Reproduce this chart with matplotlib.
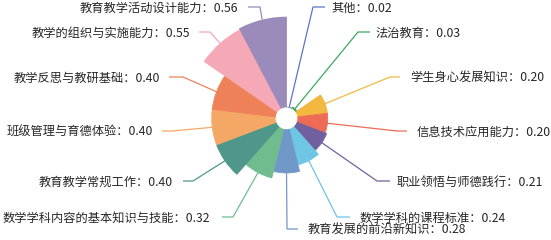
import numpy as np
import matplotlib
matplotlib.use("Agg")
import matplotlib.pyplot as plt

plt.rcParams['font.family'] = ['Noto Sans CJK SC', 'DejaVu Sans']

# data, clockwise from the top
categories = ["其他", "法治教育", "学生身心发展知识", "信息技术应用能力", "职业领悟与师德践行",
              "数学学科的课程标准", "教育发展的前沿新知识", "数学学科内容的基本知识与技能",
              "教育教学常规工作", "班级管理与育德体验", "教学反思与教研基础",
              "教学的组织与实施能力", "教育教学活动设计能力"]
values = [0.02, 0.03, 0.20, 0.20, 0.21, 0.24, 0.28, 0.32, 0.40, 0.40, 0.40, 0.55, 0.56]
colors = ['#5b75c4', '#3da95e', '#f2b840', '#ee6b57', '#71609f', '#6ec5e4', '#6f97c8',
          '#70bc8f', '#4f978b', '#f5a866', '#ef8159', '#f5a8b6', '#9a8bba']

# label layout in pixels: (text x, text y, bend x, line end x), image coords (y down)
label_pos = [(331, 8, 313, 325), (376, 33, 358, 370), (410, 78, 390, 400),
             (417, 132, 397, 407), (397, 182, 377, 390), (360, 218, 337, 350),
             (308, 230, 287, 298), (210, 218, 233, 222), (173, 182, 193, 183),
             (153, 132, 172, 162), (160, 78, 183, 169), (190, 33, 210, 199),
             (238, 8, 260, 248)]

W, H = 551, 240
fig = plt.figure(figsize=(W / 100, H / 100), dpi=100)

# rose chart
cx, cy, R, r0 = 286.5, 118.3, 101.6, 11.0
ax = fig.add_axes([(cx - R) / W, (H - cy - R) / H, 2 * R / W, 2 * R / H], projection='polar')
ax.set_theta_zero_location('N')
ax.set_theta_direction(-1)

n = len(values)
w = 2 * np.pi / n
theta = np.arange(n) * w + w / 2
vmin, vmax = min(values), max(values)
ax.bar(theta, np.array(values) - vmin, width=w, bottom=vmin, color=colors,
       edgecolor=colors, linewidth=0.6, align='center')
ax.set_rmin(vmin)
ax.set_rmax(vmax)
ax.set_rorigin(vmin - (vmax - vmin) * r0 / (R - r0))
ax.set_axis_off()

# overlay for labels and leader lines
ov = fig.add_axes([0, 0, 1, 1], zorder=-1)
ov.set_xlim(0, W)
ov.set_ylim(H, 0)
ov.set_axis_off()

for i, (cat, v) in enumerate(zip(categories, values)):
    tx, ty, bx, ex = label_pos[i]
    p = ax.transData.transform((theta[i], v))
    px, py = ov.transData.inverted().transform(p)
    ly = ty - 1
    ov.plot([px, bx, ex], [py, ly, ly], color=colors[i], lw=0.9, solid_capstyle='butt')
    ha = 'left' if ex > bx else 'right'
    ov.text(tx, ty, f"{cat}：{v:.2f}", ha=ha, va='center', fontsize=8.8, color='#262626')

fig.savefig("out.png", dpi=100)
